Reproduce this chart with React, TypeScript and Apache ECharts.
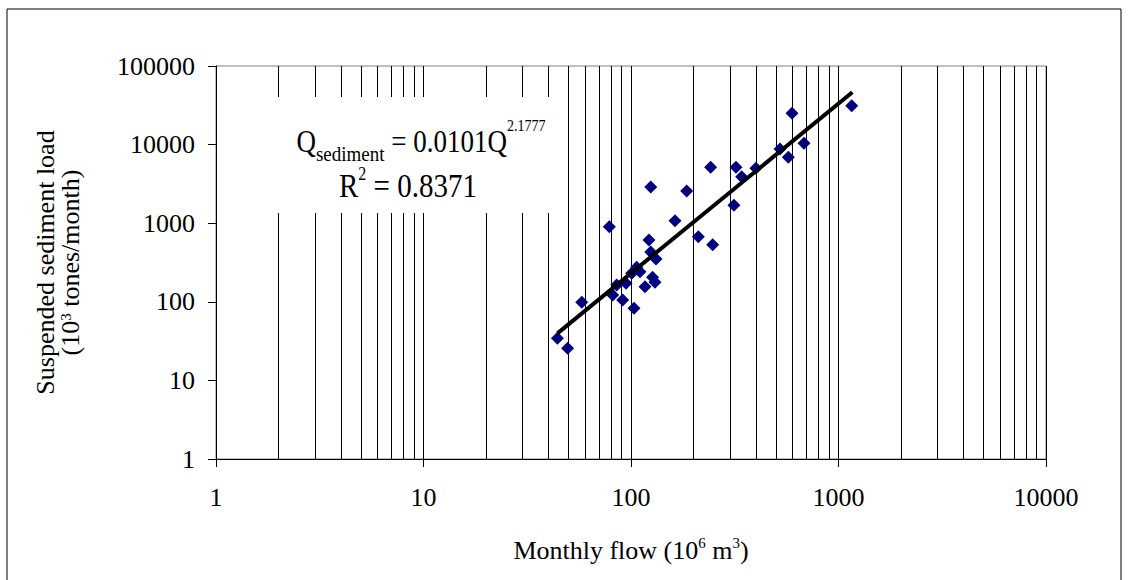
import React, { useEffect, useRef } from "react";
import * as echarts from "echarts";

// Monthly flow (10^6 m^3)
const flow = [
  78.6, 124.5, 185.5, 242, 320.6, 341.6, 400, 313.4, 522.6, 573, 597, 682, 1158,
  163, 211, 247.6, 122, 124.5, 132, 106.5, 110.5, 100.8, 85.3, 94.6, 81.6, 91.2,
  103.4, 116.8, 127, 130.5, 44.2, 49.5, 57.9,
];
// Suspended sediment load (10^3 tones/month)
const load = [
  902, 2886, 2570, 5140, 5140, 3907, 4990, 1690, 8790, 6890, 25000, 10390, 31260,
  1076, 673, 533, 611, 430, 350, 275, 241.5, 230, 163.6, 172, 122, 105.4,
  82.7, 155.6, 205, 177, 34.3, 25.6, 98.5,
];
// Power trendline end points (Q_sediment = 0.0101 Q^2.1777)
const trendFlow = [44.2, 1166];
const trendLoad = [39.7, 46300];

const xMin = 1;
const xMax = 10000;
const yMin = 1;
const yMax = 100000;

const FONT = "'Liberation Serif', 'Times New Roman', Times, serif";

export default function App() {
  const ref = useRef<HTMLDivElement>(null);

  useEffect(() => {
    const chart = echarts.init(ref.current as HTMLDivElement, null, { renderer: "svg" });
    const fmt = (v: number) => String(Math.round(v));
    chart.setOption({
      animation: false,
      backgroundColor: "#ffffff",
      textStyle: { fontFamily: FONT, color: "#000" },
      grid: {
        left: 216,
        right: 83,
        top: 66,
        bottom: 121,
        show: true,
        borderColor: "#808080",
        borderWidth: 1,
        backgroundColor: "transparent",
      },
      xAxis: {
        type: "log",
        logBase: 10,
        min: xMin,
        max: xMax,
        axisLine: { lineStyle: { color: "#000", width: 1 } },
        axisTick: { show: true, length: 8, lineStyle: { color: "#000" } },
        axisLabel: { fontSize: 26, color: "#000", fontFamily: FONT, margin: 25, formatter: fmt },
        splitLine: { show: true, lineStyle: { color: "#000", width: 1 } },
        minorTick: { show: false, splitNumber: 9 },
        minorSplitLine: { show: true, lineStyle: { color: "#000", width: 1 } },
        name: "{a|Monthly flow (10}{s|6}{a| m}{s|3}{a|)}",
        nameLocation: "middle",
        nameGap: 76,
        nameTextStyle: {
          fontFamily: FONT,
          color: "#000",
          fontSize: 26,
          rich: {
            a: { fontSize: 26, lineHeight: 30, verticalAlign: "middle", fontFamily: FONT, color: "#000" },
            s: { fontSize: 15, lineHeight: 15, verticalAlign: "top", fontFamily: FONT, color: "#000" },
          },
        },
      },
      yAxis: {
        type: "log",
        logBase: 10,
        min: yMin,
        max: yMax,
        axisLine: { lineStyle: { color: "#000", width: 1 } },
        axisTick: { show: true, length: 8, lineStyle: { color: "#000" } },
        axisLabel: { fontSize: 26, color: "#000", fontFamily: FONT, margin: 21, formatter: fmt },
        splitLine: { show: false },
        name: "{a|Suspended sediment load}\n{a|(10}{s|3}{a| tones/month)}",
        nameLocation: "middle",
        nameGap: 133,
        nameTextStyle: {
          fontFamily: FONT,
          color: "#000",
          fontSize: 26,
          align: "center",
          rich: {
            a: { fontSize: 26, lineHeight: 25, verticalAlign: "middle", fontFamily: FONT, color: "#000" },
            s: { fontSize: 15, lineHeight: 15, verticalAlign: "top", fontFamily: FONT, color: "#000" },
          },
        },
      },
      series: [
        {
          type: "scatter",
          data: flow.map((f, i) => [f, load[i]]),
          symbol: "diamond",
          symbolSize: 13,
          itemStyle: { color: "#000080", opacity: 1 },
          z: 3,
        },
        {
          type: "line",
          data: trendFlow.map((f, i) => [f, trendLoad[i]]),
          showSymbol: false,
          symbol: "none",
          lineStyle: { color: "#000", width: 4 },
          z: 4,
        },
      ],
      graphic: [
        {
          type: "rect",
          shape: { x: 7, y: 9, width: 1114, height: 600 },
          style: { fill: "none", stroke: "#000", lineWidth: 1 },
          z: 1,
          silent: true,
        },
        {
          type: "rect",
          shape: { x: 226, y: 97, width: 330, height: 116 },
          style: { fill: "#fff" },
          z: 10,
          silent: true,
        },
        {
          type: "text",
          x: 421,
          y: 141,
          scaleY: 1.15,
          z: 11,
          style: {
            text: "{q|Q}{b|sediment}{q| = 0.0101Q}{p|2.1777}",
            align: "center",
            verticalAlign: "middle",
            fill: "#000",
            font: `27px ${FONT}`,
            rich: {
              q: { fontSize: 27, lineHeight: 40, verticalAlign: "middle", fontFamily: FONT, fill: "#000" },
              b: { fontSize: 19, lineHeight: 30, verticalAlign: "bottom", fontFamily: FONT, fill: "#000" },
              p: { fontSize: 14, lineHeight: 14, verticalAlign: "top", fontFamily: FONT, fill: "#000" },
            },
          },
        },
        {
          type: "text",
          x: 408,
          y: 186,
          scaleY: 1.15,
          z: 11,
          style: {
            text: "{r|R}{p|2}{r| = 0.8371}",
            align: "center",
            verticalAlign: "middle",
            fill: "#000",
            font: `29px ${FONT}`,
            rich: {
              r: { fontSize: 29, lineHeight: 36, verticalAlign: "middle", fontFamily: FONT, fill: "#000" },
              p: { fontSize: 16, lineHeight: 16, verticalAlign: "top", fontFamily: FONT, fill: "#000" },
            },
          },
        },
      ],
    });
    return () => chart.dispose();
  }, []);

  return (
    <div
      ref={ref}
      style={{ position: "absolute", left: 0, top: 0, width: 1129, height: 580, background: "#fff" }}
    />
  );
}
